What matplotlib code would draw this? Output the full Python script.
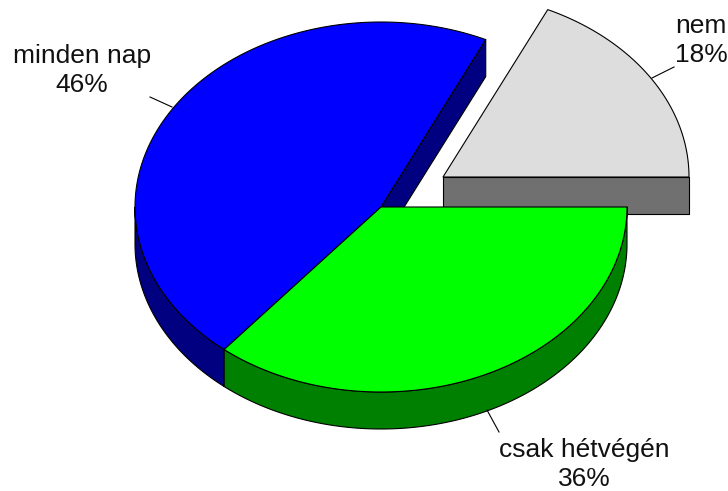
import numpy as np
import matplotlib
matplotlib.use('Agg')
import matplotlib.pyplot as plt
from matplotlib.patches import Polygon

# shares, clockwise starting from the right hand side
labels = ['csak hétvégén', 'minden nap', 'nem']
shares = [36, 46, 18]
top_colors = ['#00ff00', '#0000ff', '#dddddd']
side_colors = ['#008000', '#000080', '#707070']

# pie geometry in pixels
cx, cy = 381, 207
rx, ry = 246, 185
depth = 37
explode = [(0, 0), (0, 0), (62, -30)]

fig = plt.figure(figsize=(7.28, 4.91), dpi=100)
ax = fig.add_axes([0, 0, 1, 1])
ax.set_xlim(0, 728)
ax.set_ylim(491, 0)
ax.axis('off')
plt.rcParams['font.family'] = ['Liberation Sans', 'DejaVu Sans']


def arc(x0, y0, a0, a1):
    t = np.radians(np.linspace(a0, a1, 200))
    return np.column_stack([x0 + rx * np.cos(t), y0 + ry * np.sin(t)])


def draw(points, color, z):
    ax.add_patch(Polygon(points, closed=True, facecolor=color, edgecolor='black',
                         linewidth=0.8, zorder=z, joinstyle='round'))


edges = np.cumsum([0] + shares) * 3.6

# grey slice goes behind the others
a0, a1 = edges[2], edges[3]
x0, y0 = cx + explode[2][0], cy + explode[2][1]
draw([(x0, y0), (x0 + rx, y0), (x0 + rx, y0 + depth), (x0, y0 + depth)], side_colors[2], 1)
draw(np.vstack([[(x0, y0)], arc(x0, y0, a0, a1)]), top_colors[2], 2)

# blue slice: cut face and the visible part of the rim
a0, a1 = edges[1], edges[2]
end = arc(cx, cy, a1, a1)[0]
draw([(cx, cy), end, end + (0, depth), (cx, cy + depth)], side_colors[1], 3)
rim = arc(cx, cy, a0, 180)
draw(np.vstack([rim, (rim + (0, depth))[::-1]]), side_colors[1], 3)
draw(np.vstack([[(cx, cy)], arc(cx, cy, a0, a1)]), top_colors[1], 4)

# green slice
a0, a1 = edges[0], edges[1]
rim = arc(cx, cy, a0, a1)
draw(np.vstack([rim, (rim + (0, depth))[::-1]]), side_colors[0], 5)
draw(np.vstack([[(cx, cy)], arc(cx, cy, a0, a1)]), top_colors[0], 6)

# labels and leader lines, label y is the baseline of the percent line
label_pos = [(584, 486), (82, 92), (701, 62)]
leaders = [((487, 410), (499, 432)), ((172, 107), (150, 97)), ((652, 78), (674, 67))]
for name, share, pos, line in zip(labels, shares, label_pos, leaders):
    ax.text(pos[0], pos[1], '%s\n%d%%' % (name, share), ha='center', va='baseline',
            fontsize=19, color='#111111', linespacing=1.27, zorder=8)
    ax.plot(*zip(*line), color='black', linewidth=0.8, zorder=7)

fig.savefig('out.png', dpi=100, facecolor='white')
